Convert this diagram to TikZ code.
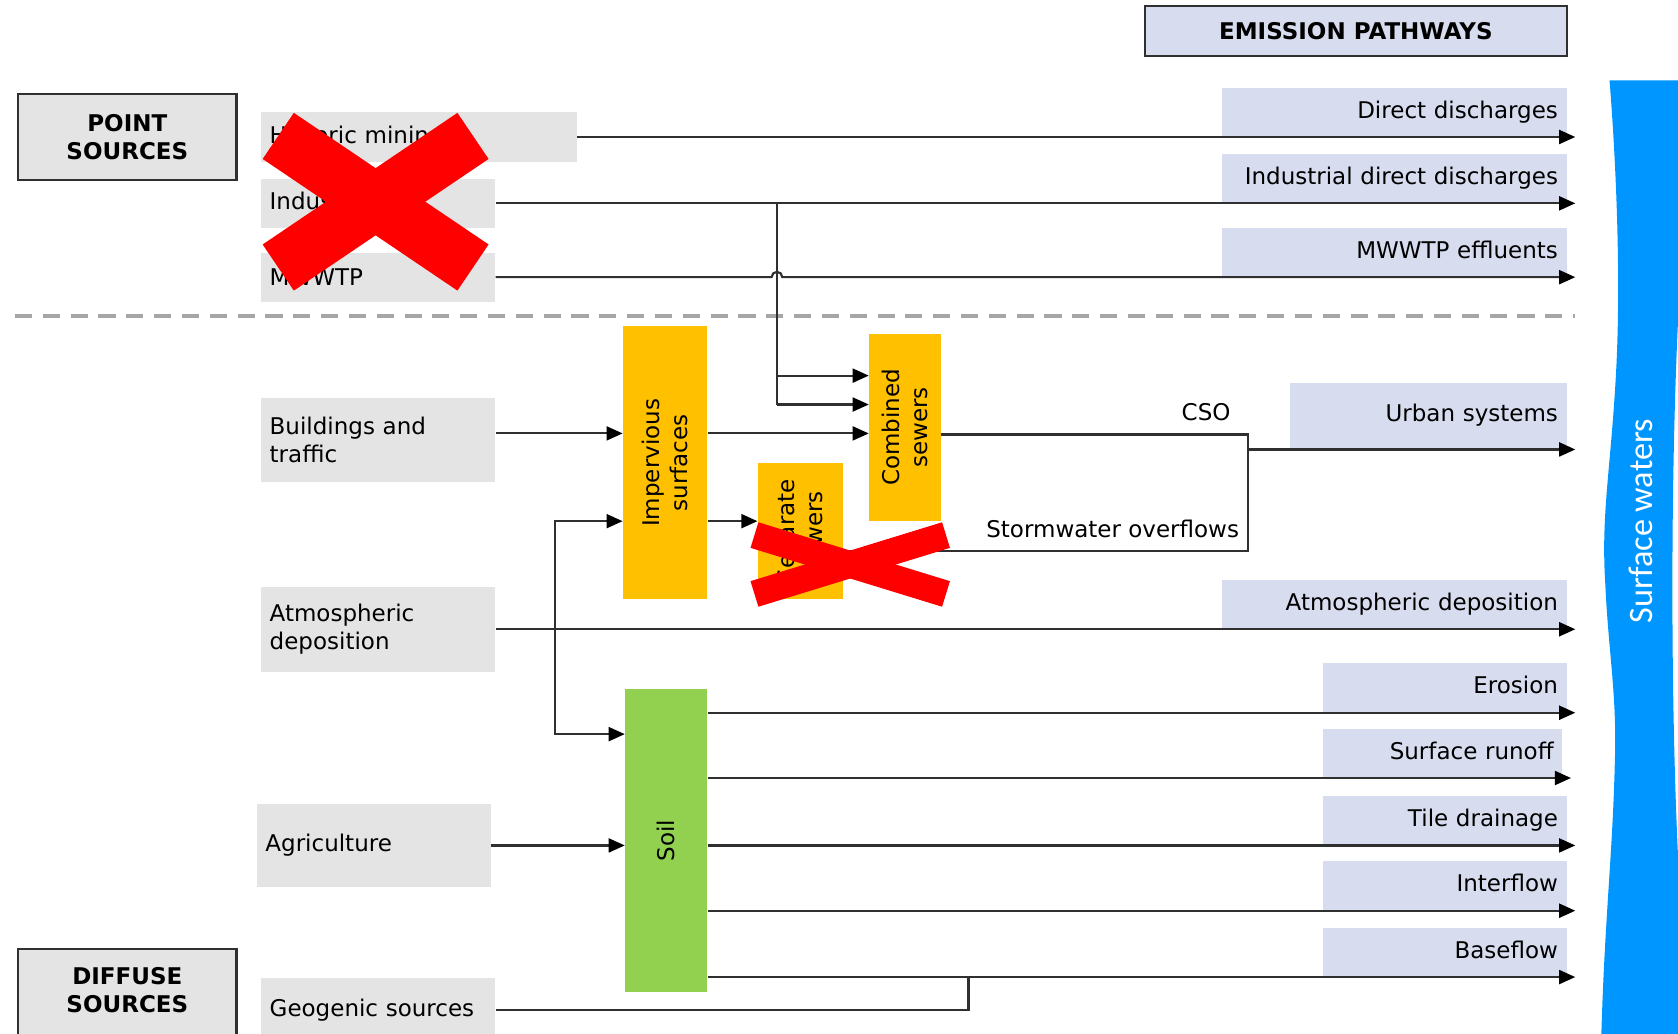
\documentclass[tikz,border=0pt]{standalone}
\usepackage{fontspec}
\setmainfont{DejaVu Sans}
\newfontfamily\swfont{Carlito}
\usetikzlibrary{arrows.meta,positioning}

\definecolor{srcgray}{HTML}{E4E4E4}
\definecolor{pathblue}{HTML}{D7DDEF}
\definecolor{stageorange}{HTML}{FFC000}
\definecolor{soilgreen}{HTML}{92D050}
\definecolor{waterblue}{HTML}{0096FF}
\definecolor{linegray}{HTML}{303030}

\tikzset{
  every node/.style={font=\fontsize{21.5}{26}\selectfont, inner sep=0pt},
  srcbox/.style={fill=srcgray, text width=#1, align=left, inner xsep=8pt},
  pathbox/.style={fill=pathblue, text width=#1, align=right, inner xsep=8pt,
    minimum height=46pt, text height=16pt, text depth=5pt, anchor=south east},
  headbox/.style={draw=linegray, line width=2pt, fill=#1, align=center,
    font=\fontsize{21.5}{26}\selectfont\bfseries},
  vlabel/.style={rotate=90, align=center},
  flow/.style={draw=linegray, line width=2pt, -{Triangle[length=15pt,width=13pt,color=black]}},
  link/.style={draw=linegray, line width=2pt},
  crossout/.style={draw=red, line width=#1},
}

\begin{document}
\begin{tikzpicture}[x=1pt,y=-1pt]
  \useasboundingbox (0,0) rectangle (1568,966);
  \clip (0,0) rectangle (1568,966);

  % Headings
  \node[headbox=pathblue, minimum width=394pt, minimum height=46pt] (emission) at (1267,29) {EMISSION PATHWAYS};
  \node[headbox=srcgray, minimum width=204pt, minimum height=80pt] (point) at (119,128) {POINT\\SOURCES};
  \node[headbox=srcgray, minimum width=204pt, minimum height=110pt, anchor=north] (diffuse) at (119,886) {};
  \node[align=center, font=\fontsize{21.5}{26}\selectfont\bfseries] (diffusetext) at (119,925) {DIFFUSE\\SOURCES};

  % Sources
  \node[srcbox=279pt, minimum height=46pt] (mining) at (391.5,128) {Historic mining};
  \node[srcbox=203pt, minimum height=46pt] (industry) at (353.5,190) {Industry};
  \node[srcbox=203pt, minimum height=46pt] (mwwtp) at (353.5,259) {MWWTP};
  \node[srcbox=203pt, minimum height=78pt] (build) at (353.5,411) {Buildings and\\traffic};
  \node[srcbox=203pt, minimum height=79pt] (atmos) at (353.5,588) {Atmospheric\\deposition};
  \node[srcbox=203pt, minimum height=78pt] (agri) at (349.5,790) {Agriculture};
  \node[srcbox=203pt, minimum height=60pt] (geo) at (353.5,944) {Geogenic sources};

  % Intermediate compartments
  \node[fill=stageorange, minimum width=79pt, minimum height=255pt] (imp) at (621.5,432.5) {};
  \node[vlabel] at (imp) {Impervious\\surfaces};
  \node[fill=stageorange, minimum width=80pt, minimum height=127pt] (sep) at (748,496.5) {};
  \node[vlabel] at (sep) {Separate\\sewers};
  \node[fill=stageorange, minimum width=67pt, minimum height=175pt] (comb) at (845.5,399.5) {};
  \node[vlabel] at (comb) {Combined\\sewers};
  \node[fill=soilgreen, minimum width=77pt, minimum height=283pt] (soil) at (622.5,785.5) {};
  \node[vlabel] at (soil) {Soil};

  % Pathways
  \node[pathbox=306pt] (pDirect) at (1464,128) {Direct discharges};
  \node[pathbox=306pt] (pIndus) at (1464,190) {Industrial direct discharges};
  \node[pathbox=306pt] (pMwwtp) at (1464,259) {MWWTP effluents};
  \node[pathbox=242pt, minimum height=62pt] (pUrban) at (1464,420) {Urban systems};
  \node[pathbox=306pt] (pAtmos) at (1464,588) {Atmospheric deposition};
  \node[pathbox=212pt] (pEros) at (1464,666) {Erosion};
  \node[pathbox=208pt] (pRunoff) at (1460,727) {Surface runoff};
  \node[pathbox=212pt] (pTile) at (1464,790) {Tile drainage};
  \node[pathbox=212pt] (pInter) at (1464,851) {Interflow};
  \node[pathbox=212pt] (pBase) at (1464,913) {Baseflow};

  % Surface waters
  \fill[waterblue] (1504,75) .. controls (1510,150) and (1515,260) .. (1510,350)
    .. controls (1505,440) and (1496,480) .. (1500,545)
    .. controls (1503,610) and (1511,650) .. (1509,710)
    .. controls (1507,800) and (1499,860) .. (1496,980)
    -- (1570,980) -- (1568,800) .. controls (1561,650) and (1561,450) .. (1568,300)
    -- (1570,75) -- cycle;
  \node[rotate=90, text=white, font=\swfont\fontsize{32}{36}\selectfont] (sw) at (1533,487) {Surface waters};

  % Arrow ends and junctions
  \coordinate (rDirect) at (1472,128);
  \coordinate (rIndus) at (1472,190);
  \coordinate (rMwwtp) at (1472,259);
  \coordinate (rUrban) at (1472,420);
  \coordinate (rAtmos) at (1472,588);
  \coordinate (rEros) at (1472,666);
  \coordinate (rRunoff) at (1468,727);
  \coordinate (rTile) at (1472,790);
  \coordinate (rInter) at (1472,851);
  \coordinate (rBase) at (1472,913);
  \coordinate (hop) at (726,259);
  \coordinate (jInd) at (726,190);
  \coordinate (jTop) at (726,351);
  \coordinate (jBot) at (726,378);
  \coordinate (bRow) at (0,405);
  \coordinate (sRow) at (0,487);
  \coordinate (soilIn) at (0,686);
  \coordinate (jAtm) at (519,588);
  \coordinate (jCso) at (1166,406);
  \coordinate (jStorm) at (1166,515);
  \coordinate (jGeo) at (905,913);

  % Separator
  \draw[draw=black!35, line width=4pt, dash pattern=on 16pt off 10pt] (14,295) -- (1472,295);

  % Point source flows
  \draw[flow] (mining.east) -- (rDirect);
  \draw[flow] (industry.east) -- (rIndus);
  \draw[flow] (mwwtp.east) -- ([xshift=-5pt]hop) arc[start angle=180, end angle=0, radius=5pt] -- (rMwwtp);
  \draw[link] (jInd) -- (jBot);
  \draw[flow] (jTop) -- (jTop -| comb.west);
  \draw[flow] (jBot) -- (jBot -| comb.west);

  % Urban flows
  \draw[flow] (build.east |- bRow) -- (imp.west |- bRow);
  \draw[flow] (imp.east |- bRow) -- (comb.west |- bRow);
  \draw[flow] (imp.east |- sRow) -- (sep.west |- sRow);
  \draw[link] (comb.east |- jCso) -- (jCso) -- (jStorm) -- (sep.east |- jStorm);
  \draw[flow] (jCso |- rUrban) -- (rUrban);
  \node[anchor=base east] (cso) at (1150,393) {CSO};
  \node[anchor=base east] (storm) at (1158,502) {Stormwater overflows};

  % Atmospheric deposition
  \draw[flow] (atmos.east) -- (rAtmos);
  \draw[flow] (jAtm) |- (imp.west |- sRow);
  \draw[flow] (jAtm) |- (soil.west |- soilIn);

  % Soil flows
  \draw[flow] (agri.east) -- (agri.east -| soil.west);
  \draw[flow] (soil.east |- rEros) -- (rEros);
  \draw[flow] (soil.east |- rRunoff) -- (rRunoff);
  \draw[flow] (soil.east |- rTile) -- (rTile);
  \draw[flow] (soil.east |- rInter) -- (rInter);
  \draw[flow] (soil.east |- rBase) -- (rBase);
  \draw[link] (geo.east) -| (jGeo);

  % Crossed out
  \draw[crossout=52pt] (260,127) -- (442,250);
  \draw[crossout=52pt] (260,250) -- (442,127);
  \draw[crossout=25pt] (705,500) -- (884,555);
  \draw[crossout=25pt] (705,555) -- (884,500);
\end{tikzpicture}
\end{document}
